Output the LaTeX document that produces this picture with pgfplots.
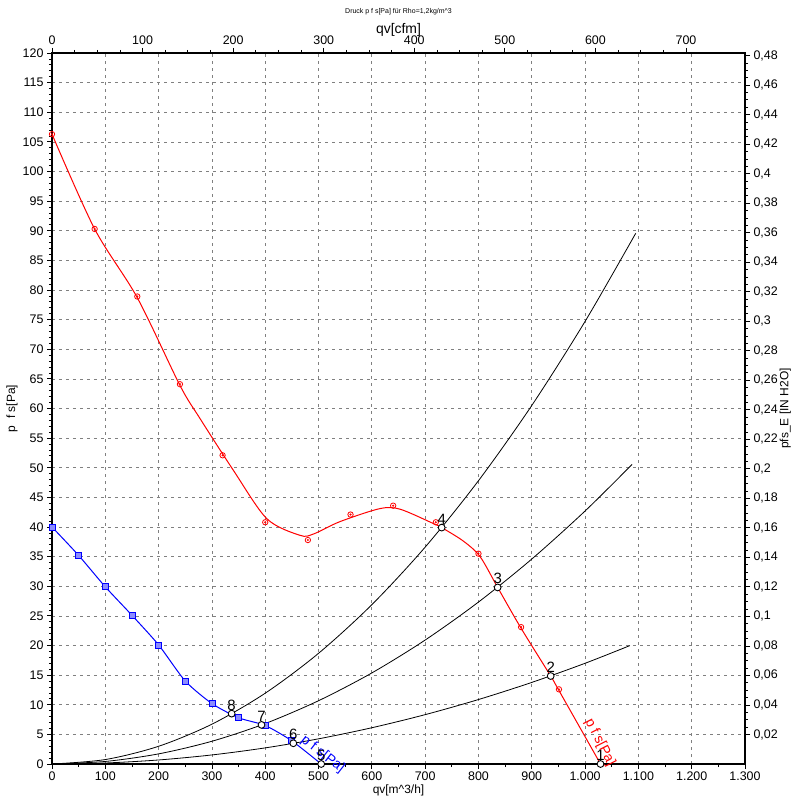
\documentclass[border=0pt]{standalone}
\usepackage{fontspec}
\setmainfont{Liberation Sans}
\usepackage{pgfplots}
\usepackage{pgfplotstable}
\pgfplotsset{compat=1.18}

% measured points of the fan curve p_fs (red)
\pgfplotstableread{
x y
0 106.3
80 90.3
160 78.9
240 64.1
320 52.1
400 40.8
480 37.8
560 42.1
640 43.6
720 40.8
800 35.5
880 23.1
951 12.6
}\redmarks
% smoothed red curve
\pgfplotstableread{
x y
0 106.3
80 90.3
160 78.7
240 63.9
277 58.4
340 49.6
403 41.4
465 38.6
490 38.8
540 40.9
615 43.1
653 43.0
715 40.6
731 39.9
772 37.6
803 35.0
836 29.8
880 22.9
935.5 14.85
951 12.4
1029 0
}\redline
% blue curve
\pgfplotstableread{
x y
0 40
50 35.2
100 29.9
150 25.1
200 20.1
250 14.0
300 10.2
350 7.8
400 6.5
450 3.9
}\bluemarks
\pgfplotstableread{
x y
0 40
50 35.2
100 29.9
150 25.1
200 20.1
250 14.0
300 10.2
350 7.8
400 6.5
450 3.9
505 0
}\blueline
% system curves
\pgfplotstableread{
x y
0 0
100 0.75
200 2.99
300 6.72
400 11.95
500 18.68
600 26.89
700 36.60
800 47.81
900 60.51
1000 74.70
1095 89.57
}\sysA
\pgfplotstableread{
x y
0 0
100 0.43
200 1.71
300 3.84
400 6.83
500 10.68
600 15.37
700 20.92
800 27.33
900 34.59
1000 42.70
1088 50.55
}\sysB
\pgfplotstableread{
x y
0 0
100 0.17
200 0.68
300 1.53
400 2.72
500 4.25
600 6.12
700 8.33
800 10.88
900 13.77
1000 17.00
1084 19.98
}\sysC
% operating points
\pgfplotstableread{
x y label
1029 0 1
935.5 14.85 2
836 29.8 3
731 39.9 4
505 0 5
452.7 3.5 6
393 6.6 7
337 8.5 8
}\oppoints

\begin{document}
\begin{tikzpicture}
\pgfplotsset{
  every axis/.append style={
    scale only axis, width=693bp, height=711bp,
    axis line style={line width=1.1bp},
    tick style={black, line width=0.8bp},
    tick align=outside,
    major tick length=5bp, minor tick length=3bp,
    scaled ticks=false,
    ticklabel style={font=\fontsize{12.5}{14}\selectfont},
    /pgf/number format/assume math mode=true,
    /pgf/number format/use comma,
    clip=false,
  },
}
\begin{axis}[
  xmin=0, xmax=1300, ymin=0, ymax=120,
  xtick={0,100,...,1300}, minor x tick num=1,
  ytick={0,5,...,120}, minor y tick num=4,
  xtick pos=lower, ytick pos=left,
  xticklabel style={yshift=1bp},
  grid=major,
  major grid style={gray, dash pattern=on 3bp off 4bp, line width=0.7bp},
  xlabel={qv[m\textasciicircum 3/h]},
  ylabel={p\ \ f s[Pa]},
  xlabel style={font=\fontsize{12}{14}\selectfont, at={(axis description cs:0.5,-0.037)}, anchor=center},
  ylabel style={font=\fontsize{12}{14}\selectfont, at={(axis description cs:-0.0577,0.5)}, anchor=center},
]
\addplot[black, line width=0.8bp, smooth] table {\sysA};
\addplot[black, line width=0.8bp, smooth] table {\sysB};
\addplot[black, line width=0.8bp, smooth] table {\sysC};
\addplot[red, line width=1bp, smooth, tension=0.5] table {\redline};
\addplot[red, only marks, mark=o, mark size=2.7bp, mark options={line width=0.8bp}] table {\redmarks};
\addplot[red, only marks, mark=*, mark size=0.8bp] table {\redmarks};
\addplot[blue, line width=1bp, smooth, tension=0.4] table {\blueline};
\addplot[blue, only marks, mark=square*, mark size=3bp, mark options={fill=blue!45, draw=blue, line width=0.8bp}] table {\bluemarks};
\addplot[only marks, mark=*, mark size=3.4bp, mark options={fill=white, draw=black, line width=0.9bp},
  nodes near coords, point meta=explicit symbolic,
  nodes near coords align=center,
  every node near coord/.append style={font=\fontsize{15}{16}\selectfont, anchor=south, inner sep=0pt, yshift=3bp}]
  table[meta=label] {\oppoints};
\node[red, rotate=-63, font=\fontsize{14}{16}\selectfont] at (axis cs:1028,3.6) {p f s[Pa]};
\node[blue, rotate=-38, font=\fontsize{14}{16}\selectfont] at (axis cs:508,1.6) {p f s[Pa]};
\end{axis}
\begin{axis}[
  xmin=0, xmax=765.15, ymin=0, ymax=0.48176,
  axis x line*=top, axis y line*=right,
  xtick={0,100,...,700}, minor x tick num=3,
  ytick={0.02,0.04,0.06,0.08,0.1,0.12,0.14,0.16,0.18,0.2,0.22,0.24,0.26,0.28,0.3,0.32,0.34,0.36,0.38,0.4,0.42,0.44,0.46,0.48},
  minor y tick num=3,
  yticklabel style={/pgf/number format/.cd, fixed, precision=2},
  xlabel={qv[cfm]},
  ylabel={pfs\_E [IN H2O]},
  xlabel style={font=\fontsize{14}{16}\selectfont, at={(axis description cs:0.5,1.032)}, anchor=center},
  ylabel style={font=\fontsize{12}{14}\selectfont, at={(axis description cs:1.058,0.5)}, anchor=center},
  title={Druck p f s[Pa] für Rho=1,2kg/m\textasciicircum 3},
  title style={font=\fontsize{7}{8}\selectfont, at={(axis description cs:0.5,1.05)}, anchor=center},
]
\end{axis}
\pgfresetboundingbox
\path ([shift={(-52bp,-39bp)}]current axis.south west) rectangle ([shift={(48bp,53bp)}]current axis.north east);
\end{tikzpicture}
\end{document}
